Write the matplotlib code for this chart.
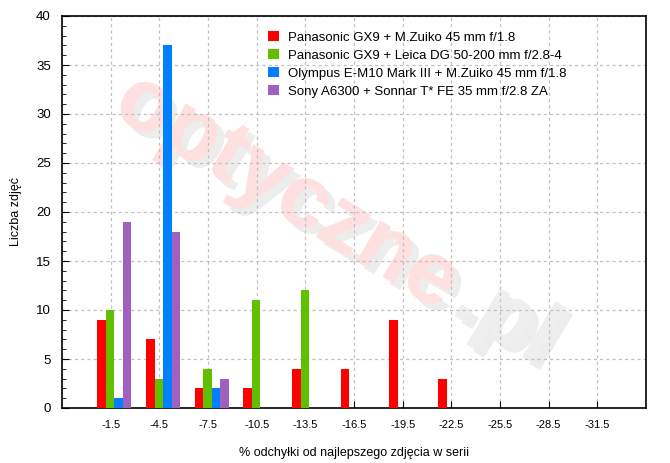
import matplotlib
matplotlib.use("Agg")
import matplotlib.pyplot as plt
import matplotlib.patheffects as pe
import numpy as np

plt.rcParams['font.family'] = ['Liberation Sans', 'DejaVu Sans']

categories = ["-1.5", "-4.5", "-7.5", "-10.5", "-13.5", "-16.5", "-19.5", "-22.5", "-25.5", "-28.5", "-31.5"]
series_names = [
    "Panasonic GX9 + M.Zuiko 45 mm f/1.8",
    "Panasonic GX9 + Leica DG 50-200 mm f/2.8-4",
    "Olympus E-M10 Mark III + M.Zuiko 45 mm f/1.8",
    "Sony A6300 + Sonnar T* FE 35 mm f/2.8 ZA",
]
gx9_mzuiko = [9, 7, 2, 2, 4, 4, 9, 3, 0, 0, 0]
gx9_leica = [10, 3, 4, 11, 12, 0, 0, 0, 0, 0, 0]
em10_mzuiko = [1, 37, 2, 0, 0, 0, 0, 0, 0, 0, 0]
a6300_sonnar = [19, 18, 3, 0, 0, 0, 0, 0, 0, 0, 0]
series_values = [gx9_mzuiko, gx9_leica, em10_mzuiko, a6300_sonnar]
colors = ["#ff0000", "#60c000", "#0080ff", "#a060c0"]

fig = plt.figure(figsize=(6.7, 4.63), dpi=100)
ax = fig.add_axes([62/670, 1-408/463, (646-62)/670, (408-16)/463])

# watermark
shadow = [pe.withSimplePatchShadow(offset=(5, -5), shadow_rgbFace='#d8d8d8', alpha=0.45), pe.Normal()]
ax.text(0.385, 0.55, "optyczne", transform=ax.transAxes, fontsize=64, fontweight='bold',
        color="#ffe0e0", rotation=-31, ha='center', va='center', zorder=0, path_effects=shadow)
ax.text(0.76, 0.225, ".pl", transform=ax.transAxes, fontsize=64, fontweight='bold',
        color="#efefef", rotation=-31, ha='center', va='center', zorder=0, path_effects=shadow)

x = np.arange(1, len(categories) + 1)
offsets = [-0.185, -0.01, 0.165, 0.34]
width = 0.176
for vals, name, c, off in zip(series_values, series_names, colors, offsets):
    ax.bar(x + off, vals, width=width, color=c, label=name, zorder=3, linewidth=0)

ax.set_xlim(0, 12)
ax.set_ylim(0, 40)
ax.set_xticks(x)
ax.set_xticklabels(categories, fontsize=8)
ax.set_yticks(np.arange(0, 41, 5))
ax.set_yticks(np.arange(0, 41, 1), minor=True)
ax.tick_params(axis='y', which='major', direction='in', length=5, labelsize=9.5, pad=8)
ax.tick_params(axis='y', which='minor', direction='in', length=3)
ax.tick_params(axis='x', which='major', direction='in', length=5, pad=9, labelsize=8)
ax.grid(True, which='major', linestyle=(0, (2.5, 2.5)), color='#c0c0c0', linewidth=0.9, zorder=1)
ax.set_axisbelow(True)
for s in ax.spines.values():
    s.set_linewidth(1.2)

ax.set_xlabel("% odchyłki od najlepszego zdjęcia w serii", fontsize=9, labelpad=12)
ax.set_ylabel("Liczba zdjęć", fontsize=9, labelpad=10)

leg = ax.legend(loc='upper left', bbox_to_anchor=(259/670, 1-22/463), bbox_transform=fig.transFigure,
                frameon=False, fontsize=9.5, handlelength=0.8, handleheight=0.8, handletextpad=0.7,
                labelspacing=0.4, borderpad=0.2)

fig.savefig("out.png", dpi=100)
